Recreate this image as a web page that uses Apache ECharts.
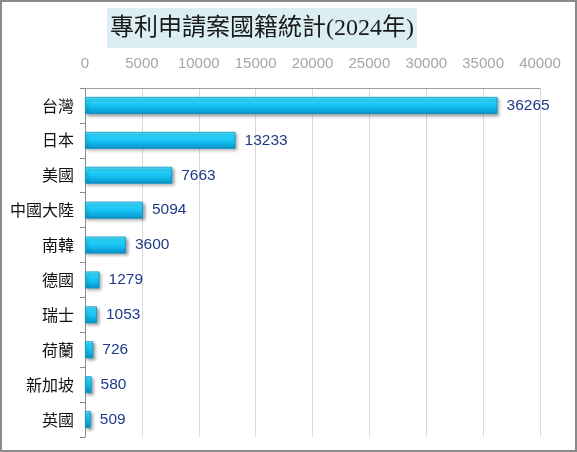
<!DOCTYPE html>
<html><head><meta charset="utf-8">
<script src="https://cdn.jsdelivr.net/npm/echarts@6/dist/echarts.min.js"></script>
<style>html,body{margin:0;padding:0;background:#fff}#c{width:577px;height:452px}</style>
</head><body><div id="c"></div>
<script>
const titleText = '專利申請案國籍統計(2024年)';
const categories = ['台灣','日本','美國','中國大陸','南韓','德國','瑞士','荷蘭','新加坡','英國'];
const values = [36265,13233,7663,5094,3600,1279,1053,726,580,509];
const axisMin = 0, axisMax = 40000, axisStep = 5000;

const chart = echarts.init(document.getElementById('c'));
chart.setOption({
  animation:false,
  backgroundColor:'#fff',
  graphic:[{type:'rect',shape:{x:1,y:1,width:575,height:450},style:{fill:'none',stroke:'#8a8a8a',lineWidth:2},silent:true}],
  title:{
    text:titleText, left:107, top:8,
    backgroundColor:'#daeef3', padding:[7,3,6,3],
    textStyle:{fontFamily:'Liberation Serif, "Noto Sans CJK TC", serif',fontSize:24,fontWeight:'normal',color:'#1a1a1a',lineHeight:27}
  },
  grid:{left:85,right:37,top:88,bottom:15,containLabel:false},
  xAxis:{
    type:'value', position:'top', min:axisMin, max:axisMax, interval:axisStep,
    axisLine:{show:true,lineStyle:{color:'#a0a0a0',width:1}},
    axisTick:{show:false},
    axisLabel:{color:'#a6a6a6',fontSize:15,margin:17,fontFamily:'Arial, Liberation Sans, sans-serif',formatter:v=>String(v)},
    splitLine:{show:true,lineStyle:{color:'#d9d9d9',width:1}}
  },
  yAxis:{
    type:'category', data:categories, inverse:true,
    axisLine:{show:true,lineStyle:{color:'#8c8c8c',width:1}},
    axisTick:{show:true,length:5,lineStyle:{color:'#8c8c8c'}},
    axisLabel:{color:'#111',fontSize:16,margin:11,fontFamily:'"Noto Sans CJK TC", sans-serif'}
  },
  series:[{
    type:'bar', data:values, barWidth:17,
    itemStyle:{
      color:new echarts.graphic.LinearGradient(0,0,0,1,[
        {offset:0,color:'#7aeeff'},{offset:0.15,color:'#2fd6fb'},{offset:0.6,color:'#12bdf0'},{offset:1,color:'#0a8fc4'}
      ]),
      borderColor:'#0b95c8',borderWidth:0.8,
      shadowColor:'rgba(0,0,0,0.35)',shadowBlur:3,shadowOffsetX:2,shadowOffsetY:2
    },
    label:{show:true,position:'right',distance:9,color:'#1f3a8a',fontSize:15.5,fontFamily:'Arial, Liberation Sans, sans-serif'}
  }]
});
</script></body></html>
